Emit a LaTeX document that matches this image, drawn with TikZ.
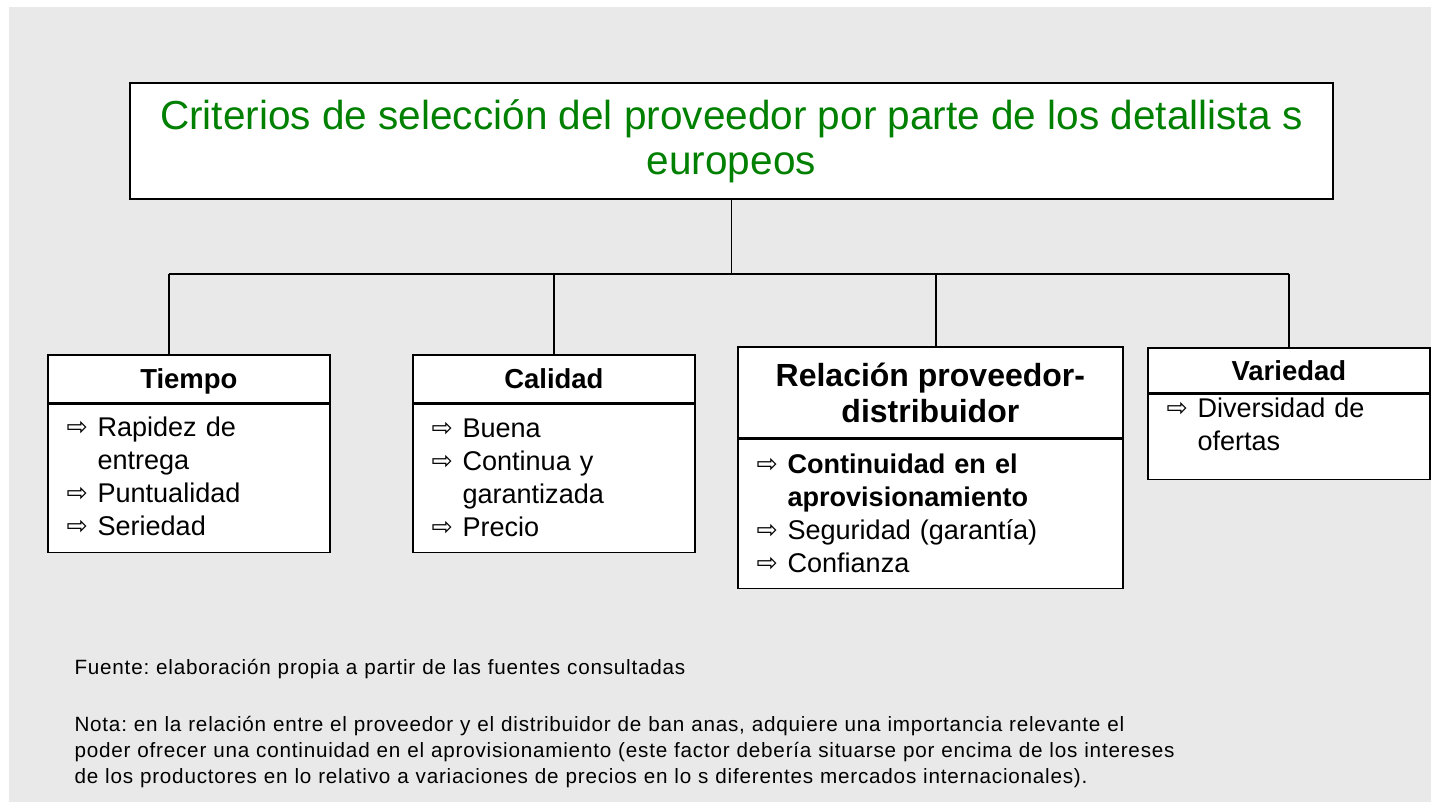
\documentclass[tikz,border=0pt]{standalone}
\usepackage{fontspec}
\setmainfont{Liberation Sans}
\newfontfamily\flechafont{DejaVu Sans}
\definecolor{fondogris}{RGB}{233,233,233}
\definecolor{verdetitulo}{RGB}{0,128,0}
\frenchspacing

\newcommand{\flecha}[1]{\hangindent=23.25pt\hangafter=1 \makebox[23.25pt][l]{\raisebox{0.5pt}{\flechafont\fontsize{19}{19}\selectfont ⇨}}#1\par}

\tikzset{every picture/.style={line width=0.75pt}}
\tikzset{
  caja/.style={draw, fill=white, line width=1.3pt, inner sep=0pt, anchor=north west},
  cabecera/.style={caja, align=center, text depth=0pt, font=\bfseries\fontsize{20.6}{24}\selectfont},
  lista/.style={anchor=base west, inner sep=0pt, align=left, font=\fontsize{20.3}{24.75}\selectfont},
  conector/.style={line width=1.2pt},
  nota/.style={anchor=base west, inner sep=0pt, align=left, text width=830pt, font=\fontsize{15.5}{19.5}\selectfont\addfontfeature{LetterSpace=3.8}},
}

\begin{document}
\begin{tikzpicture}[x=0.75pt,y=0.75pt,yscale=-1,xscale=1]
    \useasboundingbox (0,0) rectangle (1431,802);
    %Shape: Background
    \fill[white] (0,0) rectangle (1431,802);
    \fill[fondogris] (9,7) rectangle (1431,802);

    %Title box
    \node[caja, minimum width=902.25pt, minimum height=87pt, align=center, text=verdetitulo, font=\fontsize{30.4}{33.75}\selectfont] (titulo) at (129,82) {Criterios de selección del proveedor por parte de los detallista s\\europeos};

    %Header boxes
    \node[cabecera, minimum width=211.5pt, minimum height=36pt] (tiempo) at (47,354) {Tiempo};
    \node[cabecera, minimum width=211.5pt, minimum height=36pt] (calidad) at (412,354) {Calidad};
    \node[cabecera, minimum width=288.75pt, minimum height=68.25pt, font=\bfseries\fontsize{24}{27}\selectfont] (relacion) at (737,346) {Relación proveedor-\\distribuidor};
    \node[cabecera, minimum width=211.5pt, minimum height=33.75pt] (variedad) at (1147,347) {Variedad};

    %Body boxes
    \node[caja, minimum width=211.5pt, minimum height=111pt] (tiempoC) at (tiempo.south west) {};
    \node[caja, minimum width=211.5pt, minimum height=111pt] (calidadC) at (calidad.south west) {};
    \node[caja, minimum width=288.75pt, minimum height=111.75pt] (relacionC) at (relacion.south west) {};
    \node[caja, minimum width=211.5pt, minimum height=63.75pt] (variedadC) at (variedad.south west) {};

    %Connectors
    \coordinate (barraI) at (169,274);
    \coordinate (barraD) at (1289,274);
    \draw[conector] (barraI) -- (barraD);
    \draw[conector] (titulo.south) -- (titulo.south |- barraI);
    \draw[conector] (barraI) -- (barraI |- tiempo.north);
    \draw[conector] (calidad.north |- barraI) -- (calidad.north);
    \draw[conector] ([xshift=4pt]relacion.north |- barraI) -- ([xshift=4pt]relacion.north);
    \draw[conector] (barraD) -- (barraD |- variedad.north);

    % Text Node
    \node[lista, text width=190pt] (tiempoT) at (66,436) {\flecha{Rapidez de\newline entrega}\flecha{Puntualidad}\flecha{Seriedad}};
    % Text Node
    \node[lista, text width=190pt] (calidadT) at (431,437) {\flecha{Buena}\flecha{Continua y\newline garantizada}\flecha{Precio}};
    % Text Node
    \node[lista, text width=270pt] (relacionT) at (756,473) {\flecha{{\bfseries Continuidad en el\newline aprovisionamiento}}\flecha{Seguridad (garantía)}\flecha{Confianza}};
    % Text Node
    \node[lista, text width=190pt] (variedadT) at (1166,417) {\flecha{Diversidad de\newline ofertas}};

    % Text Node
    \node[nota] (fuente) at (74,674) {Fuente: elaboración propia a partir de las fuentes consultadas};
    % Text Node
    \node[nota] (nota) at (74,731) {Nota: en la relación entre el proveedor y el distribuidor de ban anas, adquiere una importancia relevante el\\poder ofrecer una continuidad en el aprovisionamiento (este factor debería situarse por encima de los intereses\\de los productores en lo relativo a variaciones de precios en lo s diferentes mercados internacionales).};
\end{tikzpicture}
\end{document}
